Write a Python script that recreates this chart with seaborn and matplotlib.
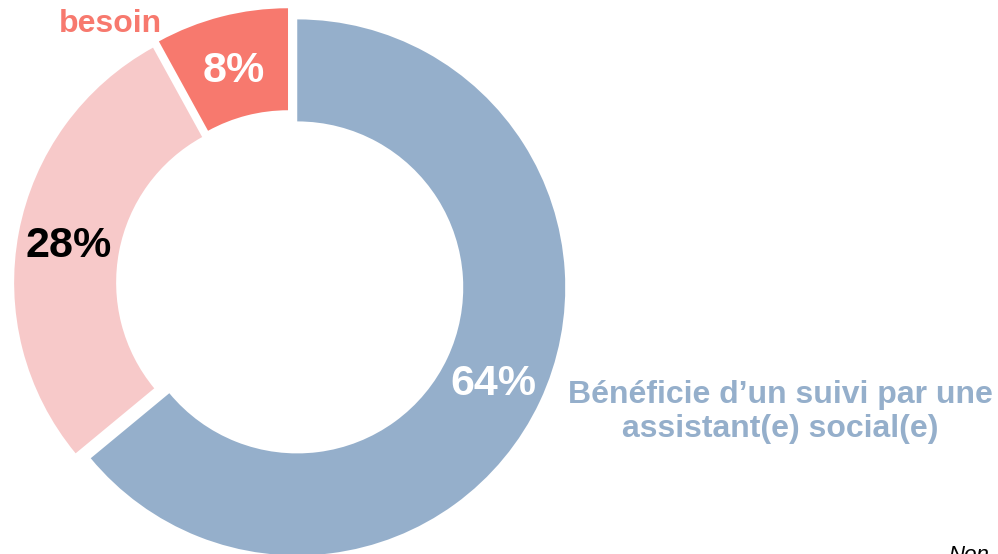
import matplotlib
matplotlib.use("Agg")
import matplotlib.pyplot as plt
import seaborn as sns

# ---- data ----
categories = ["Bénéficie d’un suivi par une\nassistant(e) social(e)",
              "Ne bénéficie pas d'un suivi",
              "besoin"]
values = [64, 28, 8]
pct_labels = ["64%", "28%", "8%"]

colors = ["#95AFCB", "#F7C9C9", "#F7796E"]
pct_colors = ["white", "black", "white"]

sns.set_theme(style="white")
plt.rcParams["font.family"] = ["Liberation Sans", "DejaVu Sans"]

W, H = 998, 554
fig = plt.figure(figsize=(W / 100, H / 100), dpi=100)
ax = fig.add_axes([0, 0, 1, 1])

R = 268
ring = 102
cx, cy = 290, H - 284
expl = 8  # absolute offset in data units (pixels)

wedges, texts, autotexts = ax.pie(
    values,
    colors=colors,
    startangle=90,
    counterclock=False,
    radius=R,
    center=(cx, cy),
    explode=[expl] * len(values),
    wedgeprops=dict(width=ring, linewidth=0),
    autopct=lambda p: "",
    pctdistance=(R - ring / 2) / R,
)
for t, lab, c in zip(autotexts, pct_labels, pct_colors):
    t.set_text(lab)
    t.set_color(c)
    t.set_fontsize(31)
    t.set_fontweight("bold")
    t.set_ha("center")
    t.set_va("center_baseline")

ax.set_xlim(0, W)
ax.set_ylim(0, H)
ax.set_aspect("equal")
ax.axis("off")

# category labels
ax.text(780, H - 412, categories[0], color=colors[0], fontsize=23,
        fontweight="bold", ha="center", va="center", linespacing=1.15)
ax.text(110, H - 32, categories[2], color=colors[2], fontsize=23,
        fontweight="bold", ha="center", va="baseline")
ax.text(948, H - 545, "Non", color="black", fontsize=16, style="italic",
        ha="left", va="top")

fig.savefig("out.png", dpi=100)
